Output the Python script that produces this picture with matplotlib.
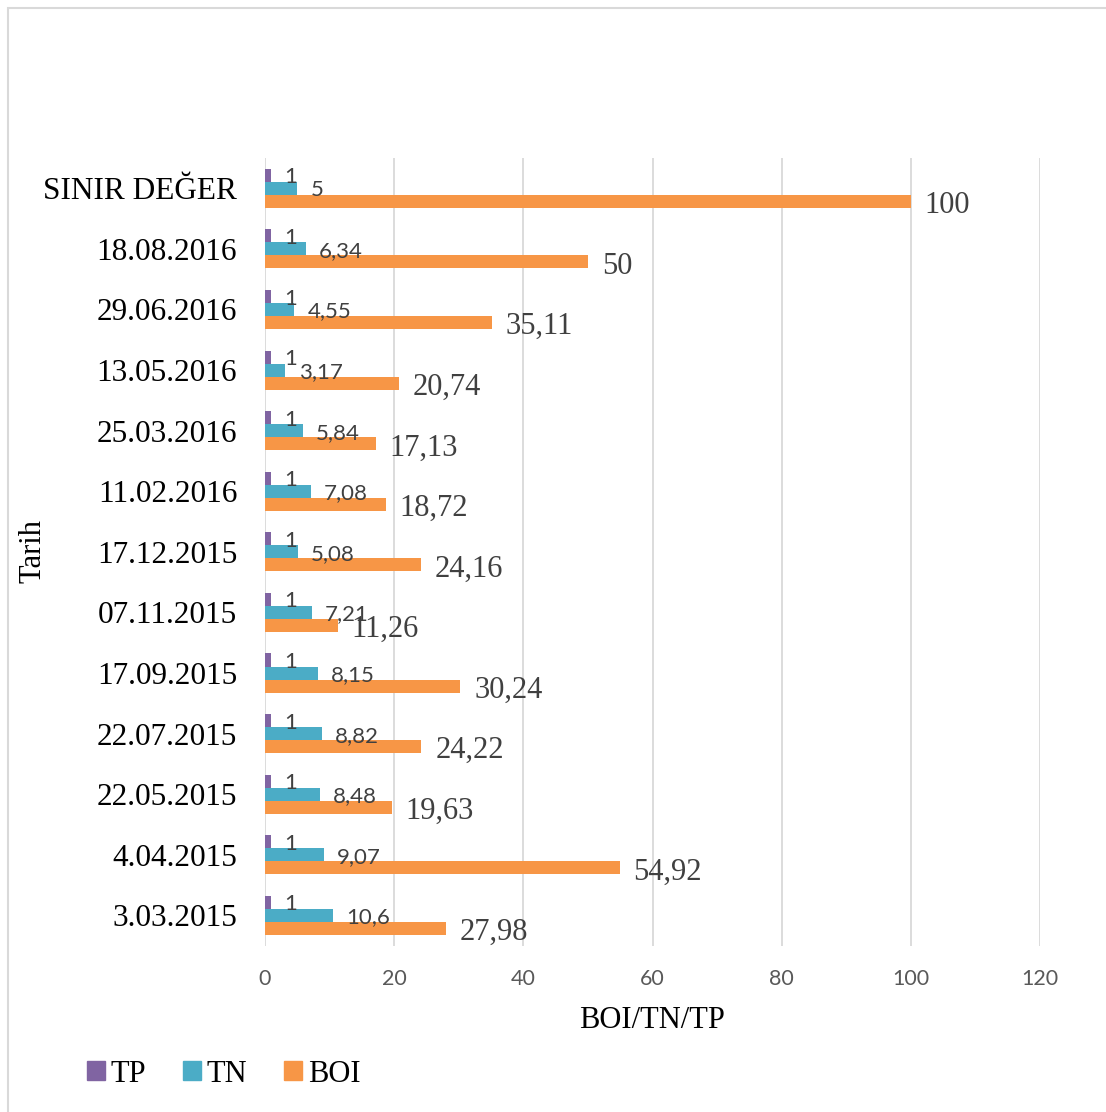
import matplotlib
matplotlib.use("Agg")
import matplotlib.pyplot as plt
from matplotlib.patches import Patch, Rectangle
import numpy as np

# data, top to bottom as shown in the chart
dates = ['SINIR DEĞER', '18.08.2016', '29.06.2016', '13.05.2016', '25.03.2016',
         '11.02.2016', '17.12.2015', '07.11.2015', '17.09.2015', '22.07.2015',
         '22.05.2015', '4.04.2015', '3.03.2015']
tp = [1, 1, 1, 1, 1, 1, 1, 1, 1, 1, 1, 1, 1]
tn = [5, 6.34, 4.55, 3.17, 5.84, 7.08, 5.08, 7.21, 8.15, 8.82, 8.48, 9.07, 10.6]
boi = [100, 50, 35.11, 20.74, 17.13, 18.72, 24.16, 11.26, 30.24, 24.22, 19.63, 54.92, 27.98]
x_ticks = [0, 20, 40, 60, 80, 100, 120]

c_tp = '#8064A2'
c_tn = '#4BACC6'
c_boi = '#F79646'
serif = 'Liberation Serif'
sans = 'Lato'

W, H = 1106, 1112
fig = plt.figure(figsize=(W / 100, H / 100), dpi=100)

# light frame around the chart (top and left edges visible)
fig.add_artist(Rectangle((8 / W, -0.1), 1.2, 1.1 - 8 / H, transform=fig.transFigure,
                         fill=False, edgecolor='#D9D9D9', lw=1.5))

ax = fig.add_axes([265 / W, 1 - 945.7 / H, (1040 - 265) / W, (945.7 - 158) / H])

# reverse so the first entry sits on top
labels = dates[::-1]
tp_r, tn_r, boi_r = tp[::-1], tn[::-1], boi[::-1]
y = np.arange(len(labels))
h = 0.215

ax.barh(y + h, tp_r, height=h, color=c_tp)
ax.barh(y, tn_r, height=h, color=c_tn)
ax.barh(y - h, boi_r, height=h, color=c_boi)


def fmt(v):
    return f"{v:g}".replace('.', ',')


for yy, v in zip(y + h, tp_r):
    ax.annotate(fmt(v), xy=(v, yy), xytext=(9.5, -1.5), textcoords='offset points',
                va='center', ha='left', fontsize=16, family=sans, color='#404040')
for yy, v in zip(y, tn_r):
    ax.annotate(fmt(v), xy=(v, yy), xytext=(9.5, -1.5), textcoords='offset points',
                va='center', ha='left', fontsize=16, family=sans, color='#404040')
for yy, v in zip(y - h, boi_r):
    ax.annotate(fmt(v), xy=(v, yy), xytext=(10, -3), textcoords='offset points',
                va='center', ha='left', fontsize=22, family=serif, color='#404040')

ax.set_xlim(0, 120)
ax.set_ylim(-0.5, len(labels) - 0.5)
ax.set_xticks(x_ticks)
ax.set_yticks(y)
ax.set_yticklabels(labels, fontsize=22.5, family=serif, color='black')
for t in ax.get_xticklabels():
    t.set_fontfamily(sans)
    t.set_fontsize(15.5)
ax.tick_params(axis='x', length=0, pad=16.5, labelcolor='#595959')
ax.tick_params(axis='y', length=0, pad=20)
ax.grid(axis='x', color='#D9D9D9', lw=1.3)
ax.set_axisbelow(True)
for s in ax.spines.values():
    s.set_visible(False)

fig.text(652.5 / W, 1 - 1020 / H, 'BOI/TN/TP', ha='center', va='center',
         fontsize=22, family=serif)
fig.text(33 / W, 1 - 551 / H, 'Tarih', ha='center', va='center', rotation=90,
         fontsize=22, family=serif)

handles = [Patch(color=c_tp, label='TP'), Patch(color=c_tn, label='TN'),
           Patch(color=c_boi, label='BOI')]
fig.legend(handles=handles, loc='center left', bbox_to_anchor=(87 / W, 1 - 1074 / H),
           ncol=3, frameon=False, borderpad=0, borderaxespad=0,
           handlelength=0.58, handleheight=0.58, handletextpad=0.2,
           columnspacing=1.2, prop={'family': serif, 'size': 22})

fig.savefig('out.png', dpi=100)
